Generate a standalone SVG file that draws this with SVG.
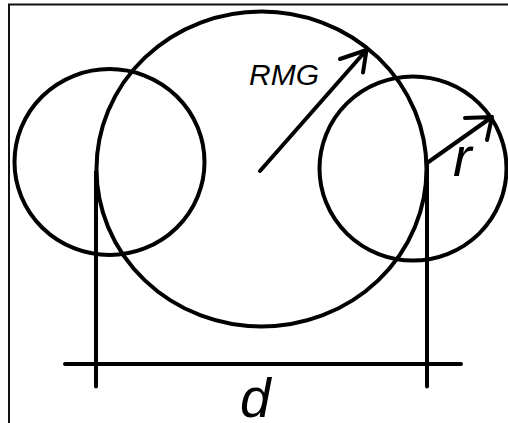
<svg xmlns="http://www.w3.org/2000/svg" width="508" height="423" viewBox="0 0 508 423">
<style>
.c{fill:none;stroke:#000;stroke-width:4}
.l{fill:none;stroke:#000;stroke-width:4;stroke-linecap:round;stroke-linejoin:round}
.t{font-family:"Liberation Sans",Arial,sans-serif;font-style:italic;fill:#000}
</style>
<rect x="0" y="0" width="508" height="423" fill="#fff"/>
<g id="frame"><path d="M9,423 V4.5 H508" fill="none" stroke="#111" stroke-width="2"/></g>
<g id="big-circle"><ellipse class="c" cx="261.5" cy="169" rx="165" ry="157.5"/></g>
<g id="left-circle"><ellipse class="c" cx="109.5" cy="162" rx="95" ry="93"/></g>
<g id="right-circle"><ellipse class="c" cx="413" cy="168.5" rx="93.5" ry="92"/></g>
<g id="connectors">
<path class="l" d="M96,172 V386.5"/>
<path class="l" d="M427,163 V386.5"/>
<path class="l" d="M65,364 H461"/>
<path class="l" d="M260,171 L366.5,50 M340,59 L366.5,50 L363,72.5"/>
<path class="l" d="M427,163 L492,117 M465,118 L492,117 L487,140"/>
</g>
<g id="labels">
<text class="t" x="249" y="85" font-size="30">RMG</text>
<text class="t" x="453" y="176" font-size="56">r</text>
<text class="t" x="240" y="417" font-size="55">d</text>
</g>
</svg>
